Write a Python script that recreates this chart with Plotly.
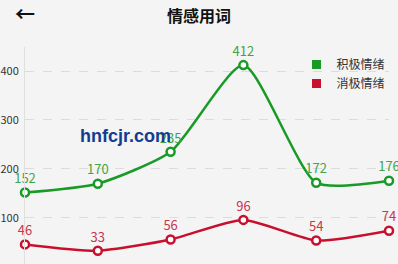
import plotly.graph_objects as go

categories = [0, 1, 2, 3, 4, 5]
positive = [152, 170, 235, 412, 172, 176]
negative = [46, 33, 56, 96, 54, 74]
series_names = ["积极情绪", "消极情绪"]
y_ticks = [0, 100, 200, 300, 400]

GREEN = "#189b26"
RED = "#c8102e"
GREEN_TXT = "#3fa548"
RED_TXT = "#c8354d"
BG = "#f4f4f4"
FONT = "Noto Sans CJK SC, Roboto, sans-serif"

fig = go.Figure()
for vals, col, tcol in [(positive, GREEN, GREEN_TXT), (negative, RED, RED_TXT)]:
    fig.add_trace(go.Scatter(
        x=categories, y=vals, mode="lines+markers+text",
        line=dict(color=col, width=2.5, shape="spline", smoothing=0.6),
        marker=dict(size=8, color="white", line=dict(color=col, width=2.5)),
        text=[str(v) for v in vals], textposition="top center",
        textfont=dict(color=tcol, size=13, family=FONT),
        cliponaxis=False, showlegend=False))

for name, col in zip(series_names, [GREEN, RED]):
    fig.add_trace(go.Scatter(x=[None], y=[None], mode="markers", name=name,
                             marker=dict(symbol="square", size=9, color=col)))

h_plot = 264 - 47
w_plot = 398 - 23 - 9

fig.update_layout(
    width=398, height=264,
    margin=dict(l=23, r=9, t=47, b=0),
    paper_bgcolor=BG, plot_bgcolor=BG,
    font=dict(family=FONT, color="#333"),
    xaxis=dict(range=[0, 5], showgrid=False, zeroline=False, showticklabels=False,
               showline=False, fixedrange=True),
    yaxis=dict(range=[6, 449], tickvals=y_ticks, showgrid=True, gridcolor="#dcdcdc",
               griddash="dash", gridwidth=1, zeroline=False, showline=True,
               linecolor="#e0e0e0", linewidth=1, ticks="outside", ticklen=3,
               tickcolor="rgba(0,0,0,0)", tickfont=dict(size=11, color="#333")),
    legend=dict(x=(296 - 23) / w_plot, y=1 + (47 - 50) / h_plot, xanchor="left", yanchor="top",
                bgcolor="rgba(0,0,0,0)", font=dict(size=12, color="#333"),
                itemwidth=30, tracegroupgap=0),
    annotations=[
        dict(text="<b>情感用词</b>", x=(198 - 23) / w_plot, y=1 + (47 - 15) / h_plot,
             xref="paper", yref="paper", xanchor="center", yanchor="middle", showarrow=False,
             font=dict(size=16, color="#111", family=FONT)),
        dict(text="<b>←</b>", x=0, y=1 + (47 - 14) / h_plot, xref="paper", yref="paper",
             xanchor="center", yanchor="middle", showarrow=False,
             font=dict(size=20, color="#111", family=FONT)),
        dict(text="<b>hnfcjr.com</b>", x=1.38, y=268, xref="x", yref="y", showarrow=False,
             font=dict(size=18, color="#123d91", family="Liberation Sans")),
    ],
)

fig.write_html("out.html")
